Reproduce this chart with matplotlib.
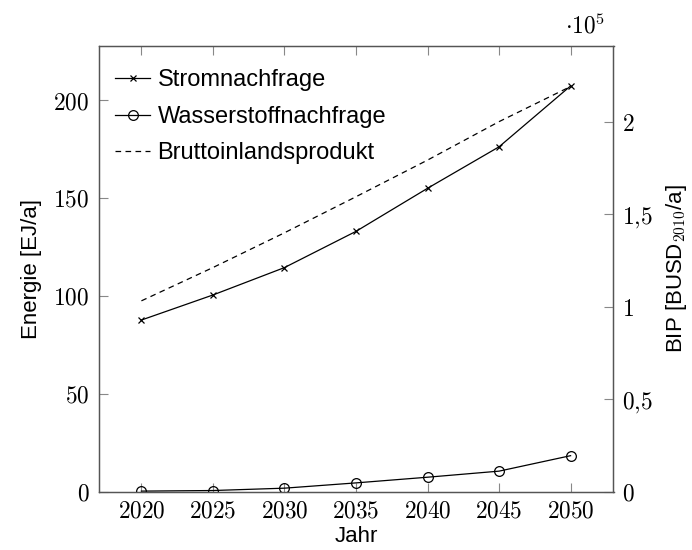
import matplotlib
matplotlib.use("Agg")
import matplotlib.pyplot as plt
from matplotlib.ticker import FixedLocator, FuncFormatter

plt.rcParams['font.family'] = ['Liberation Sans', 'DejaVu Sans']
plt.rcParams['mathtext.fontset'] = 'cm'

years = [2020, 2025, 2030, 2035, 2040, 2045, 2050]
strom = [87.6, 100.4, 114.4, 132.9, 154.9, 176.1, 207.2]
wasser = [0.2, 0.5, 1.7, 4.4, 7.3, 10.4, 18.3]
bip = [1.031e5, 1.211e5, 1.399e5, 1.594e5, 1.792e5, 2.0e5, 2.19e5]

left_ticks = [0, 50, 100, 150, 200]
right_ticks = [0, 0.5e5, 1e5, 1.5e5, 2e5]

fig = plt.figure(figsize=(6.92, 5.5), dpi=100)
ax = fig.add_axes([98.5/692, 1-491.5/550, (613.5-98.5)/692, (491.5-46)/550])
ax2 = ax.twinx()

spine_col = '#555555'
lw = 0.9
l1, = ax.plot(years, strom, color='black', lw=lw, marker='x', ms=5, mew=0.9,
              label='Stromnachfrage', zorder=3)
l2, = ax.plot(years, wasser, color='black', lw=lw, marker='o', ms=7, mew=0.9,
              mfc='none', label='Wasserstoffnachfrage', zorder=3)
l3, = ax2.plot(years, bip, color='black', lw=lw, ls=(0, (4.5, 3.5)),
               label='Bruttoinlandsprodukt')

ax.set_xlim(2017, 2053)
ax.set_ylim(0, 227.6)
ax2.set_ylim(0, 2.409e5)

ax.xaxis.set_major_locator(FixedLocator(years))
ax.yaxis.set_major_locator(FixedLocator(left_ticks))
ax2.yaxis.set_major_locator(FixedLocator(right_ticks))

def mfmt(v, pos):
    return r'$%d$' % v
ax.xaxis.set_major_formatter(FuncFormatter(mfmt))
ax.yaxis.set_major_formatter(FuncFormatter(mfmt))

def rfmt(v, pos):
    s = ('%g' % (v / 1e5)).replace('.', '{,}')
    return r'$%s$' % s
ax2.yaxis.set_major_formatter(FuncFormatter(rfmt))

for a in (ax, ax2):
    for s in a.spines.values():
        s.set_color(spine_col)
        s.set_linewidth(0.9)
tick_kw = dict(direction='in', length=6.5, width=0.8, color='#888888',
               labelsize=16.8)
ax.tick_params(axis='x', top=True, pad=6, **tick_kw)
ax.tick_params(axis='y', pad=6.5, right=False, **tick_kw)
ax2.tick_params(axis='y', pad=6, **tick_kw)

ax.set_xlabel('Jahr', fontsize=16, labelpad=2)
ax.set_ylabel('Energie [EJ/a]', fontsize=16, labelpad=8)
ax2.set_ylabel(r'BIP [BUSD$_{2010}$/a]', fontsize=16, labelpad=8.5)

ax2.text(0.983, 1.029, r'$\cdot10^5$', transform=ax2.transAxes, ha='right',
         va='baseline', fontsize=16.8)

leg = ax.legend(handles=[l1, l2, l3], loc='upper left', frameon=False,
                fontsize=17, handlelength=1.5, handletextpad=0.3,
                labelspacing=0.62, borderaxespad=0.3,
                bbox_to_anchor=(0.0, 0.985))

fig.savefig('out.png', dpi=100)
